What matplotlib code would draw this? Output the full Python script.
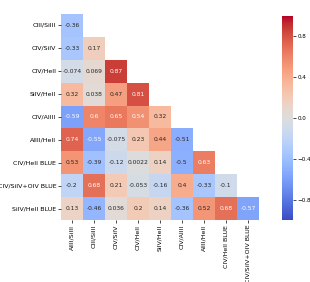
import numpy as np
import matplotlib
matplotlib.use('Agg')
import matplotlib.pyplot as plt
import seaborn as sns

# rótulos das linhas e colunas
linhas = ['CIII/SiIII', 'CIV/SiIV', 'CIV/HeII', 'SiIV/HeII', 'CIV/AlIII',
          'AlIII/HeII', 'CIV/HeII BLUE', 'CIV/SiIV+OIV BLUE', 'SiIV/HeII BLUE']
colunas = ['AlIII/SiIII', 'CIII/SiIII', 'CIV/SiIV', 'CIV/HeII', 'SiIV/HeII',
           'CIV/AlIII', 'AlIII/HeII', 'CIV/HeII BLUE', 'CIV/SiIV+OIV BLUE']

# triângulo inferior da matriz de correlação
r0 = [-0.36]
r1 = [-0.33, 0.17]
r2 = [-0.074, 0.069, 0.87]
r3 = [0.32, 0.038, 0.47, 0.81]
r4 = [-0.59, 0.6, 0.65, 0.54, 0.32]
r5 = [0.74, -0.55, -0.075, 0.23, 0.44, -0.51]
r6 = [0.53, -0.39, -0.12, 0.0022, 0.14, -0.5, 0.63]
r7 = [-0.2, 0.68, 0.21, -0.053, -0.16, 0.4, -0.33, -0.1]
r8 = [0.13, -0.46, 0.036, 0.2, 0.14, -0.36, 0.52, 0.68, -0.57]
valores = [r0, r1, r2, r3, r4, r5, r6, r7, r8]

n = len(linhas)
corr = np.full((n, n), np.nan)
for i, r in enumerate(valores):
    corr[i, :len(r)] = r
mask = np.isnan(corr)

fig = plt.figure(figsize=(3.1, 2.82), dpi=100)
ax = fig.add_axes([61/310, 62/282, 198/310, 206/282])
cax = fig.add_axes([282/310, 62/282, 11/310, 204/282])

sns.heatmap(corr, mask=mask, cmap='coolwarm', vmin=-1, vmax=1, center=0,
            annot=True, fmt='.2g', annot_kws={'fontsize': 4.3},
            linewidths=0,
            xticklabels=colunas, yticklabels=linhas,
            ax=ax, cbar_ax=cax)

ax.tick_params(axis='both', labelsize=4.5, length=2, width=0.5, pad=1.5)
ax.set_xticklabels(colunas, rotation=90)
ax.set_yticklabels(linhas, rotation=0)
cax.tick_params(labelsize=4.1, length=2, width=0.5, pad=1.2)
cax.set_yticks([-0.8, -0.4, 0.0, 0.4, 0.8])
for s in cax.spines.values():
    s.set_visible(False)

fig.savefig('out.png', dpi=100)
